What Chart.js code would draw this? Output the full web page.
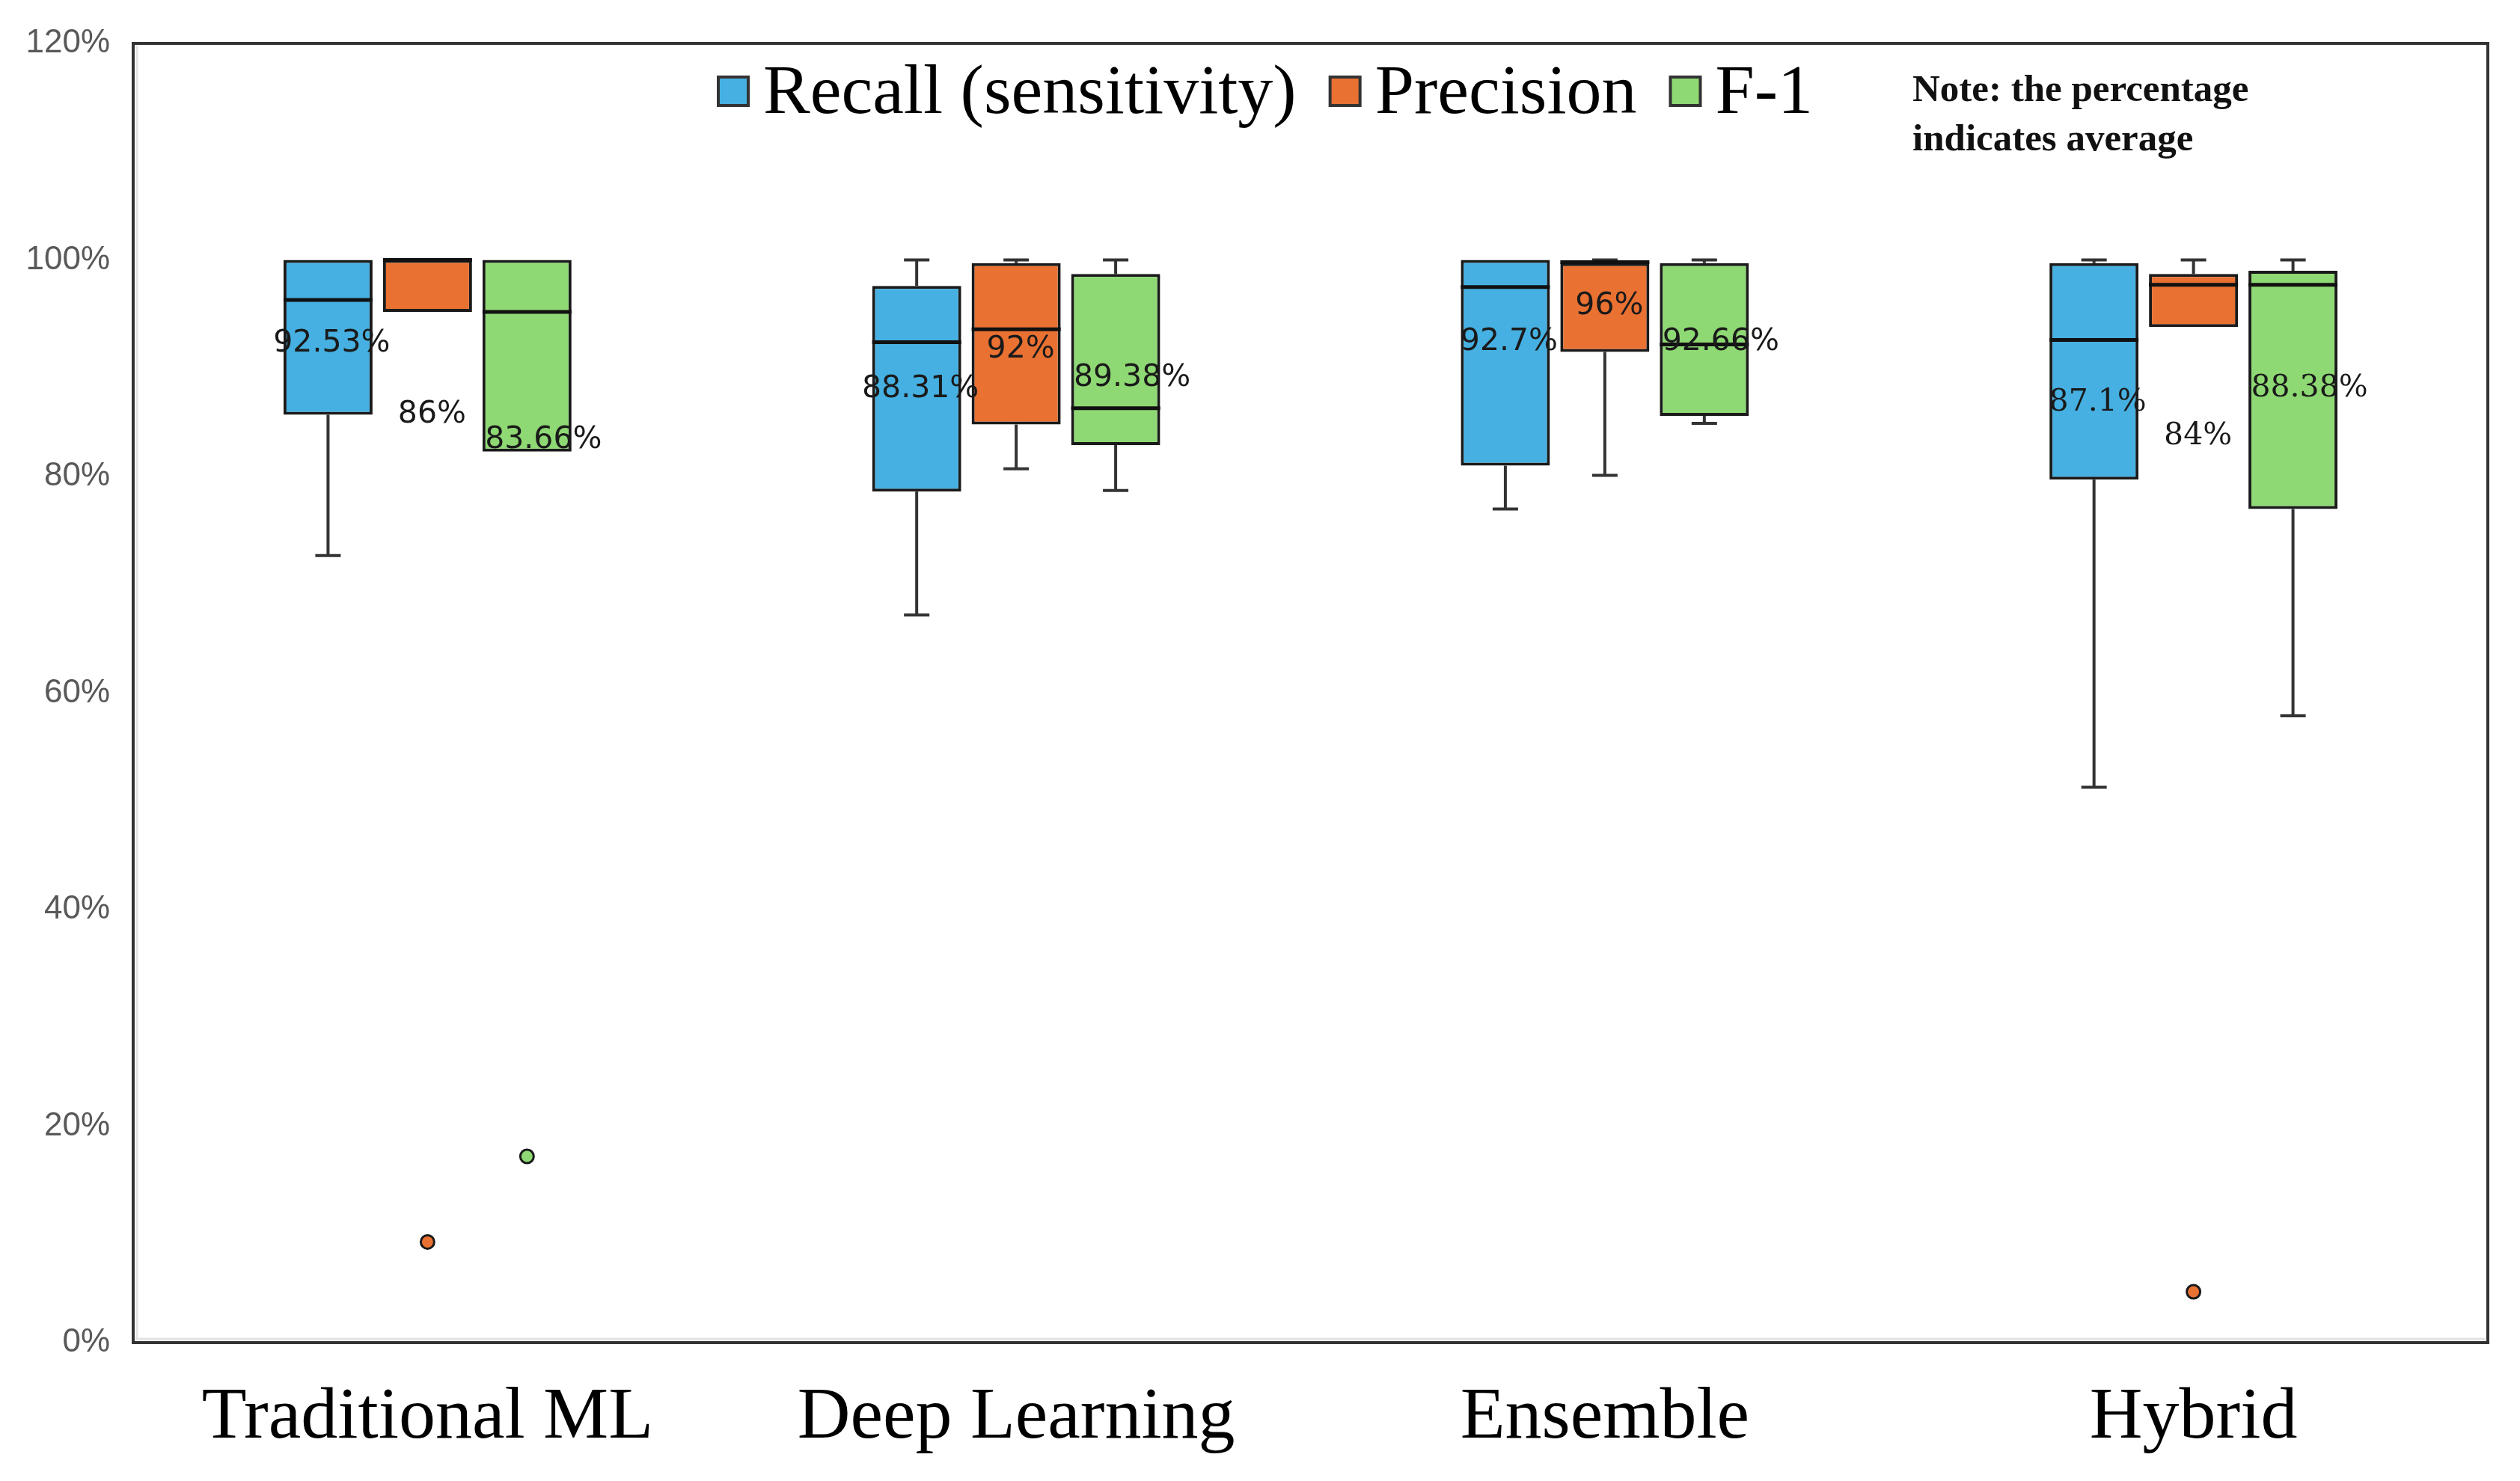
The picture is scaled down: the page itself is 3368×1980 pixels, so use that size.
<!DOCTYPE html>
<html>
<head>
<meta charset="utf-8">
<script src="https://cdn.jsdelivr.net/npm/chart.js@4.4.1/dist/chart.umd.min.js"></script>
<style>
  html, body { margin: 0; padding: 0; background: #fff; }
  canvas { display: block; }
</style>
</head>
<body>
<canvas id="boxChart" width="3368" height="1980"></canvas>
<script>
const categories = ['Traditional ML', 'Deep Learning', 'Ensemble', 'Hybrid'];
const yTicks = [0, 20, 40, 60, 80, 100, 120];

// Recall (sensitivity)
const recallMin = [72.7, 67.2, 77.0, 51.3];
const recallQ1 = [85.7, 78.6, 81.0, 79.7];
const recallMedian = [96.3, 92.4, 97.5, 92.6];
const recallQ3 = [100, 97.6, 100, 99.7];
const recallMax = [100, 100, 100, 100];
const recallMean = [92.53, 88.31, 92.7, 87.1];
const recallOutliers = [[], [], [], []];

// Precision
const precisionMin = [95.2, 80.7, 80.1, 93.8];
const precisionQ1 = [95.2, 84.8, 91.5, 93.8];
const precisionMedian = [100, 93.6, 99.8, 97.7];
const precisionQ3 = [100, 99.7, 99.7, 98.7];
const precisionMax = [100, 100, 100, 100];
const precisionMean = [86, 92, 96, 84];
const precisionOutliers = [[9.3], [], [], [4.7]];

// F-1
const f1Min = [82.3, 78.7, 84.9, 57.9];
const f1Q1 = [82.3, 82.9, 85.6, 77.0];
const f1Median = [95.2, 86.3, 92.2, 97.7];
const f1Q3 = [100, 98.7, 99.7, 99.0];
const f1Max = [100, 100, 100, 100];
const f1Mean = [83.66, 89.38, 92.66, 88.38];
const f1Outliers = [[17.2], [], [], []];

const noteLines = ['Note: the percentage', 'indicates average'];

const series = [
    { label: 'Recall (sensitivity)', color: '#45B0E1', min: recallMin, q1: recallQ1, median: recallMedian, q3: recallQ3, max: recallMax, mean: recallMean, outliers: recallOutliers, labelShift: 5 },
    { label: 'Precision', color: '#E97132', min: precisionMin, q1: precisionQ1, median: precisionMedian, q3: precisionQ3, max: precisionMax, mean: precisionMean, outliers: precisionOutliers, labelShift: 6 },
    { label: 'F-1', color: '#8ED973', min: f1Min, q1: f1Q1, median: f1Median, q3: f1Q3, max: f1Max, mean: f1Mean, outliers: f1Outliers, labelShift: 22 }
];

// the last group's labels are set in a serif face in the original
const meanFonts = ['"DejaVu Sans"', '"DejaVu Sans"', '"DejaVu Sans"', '"DejaVu Serif"'];

function line(ctx, x1, y1, x2, y2) {
    ctx.beginPath();
    ctx.moveTo(x1, y1);
    ctx.lineTo(x2, y2);
    ctx.stroke();
}

const boxExtras = {
    id: 'boxExtras',
    afterDatasetsDraw(chart) {
        const ctx = chart.ctx;
        const yScale = chart.scales.y;
        ctx.save();
        series.forEach((s, di) => {
            const meta = chart.getDatasetMeta(di);
            meta.data.forEach((bar, i) => {
                const x = bar.x;
                const half = bar.width / 2;
                const capHalf = 17;
                const pMin = yScale.getPixelForValue(s.min[i]);
                const pQ1 = yScale.getPixelForValue(s.q1[i]);
                const pMed = yScale.getPixelForValue(s.median[i]);
                const pQ3 = yScale.getPixelForValue(s.q3[i]);
                const pMax = yScale.getPixelForValue(s.max[i]);

                // whiskers
                ctx.strokeStyle = '#333';
                ctx.lineWidth = 4;
                if (s.min[i] < s.q1[i]) {
                    line(ctx, x, pQ1, x, pMin);
                    line(ctx, x - capHalf, pMin, x + capHalf, pMin);
                }
                if (s.max[i] > s.q3[i]) {
                    line(ctx, x, pQ3, x, pMax);
                    line(ctx, x - capHalf, pMax, x + capHalf, pMax);
                }

                // median
                ctx.strokeStyle = '#111';
                ctx.lineWidth = 5;
                line(ctx, x - half, pMed, x + half, pMed);

                // outliers
                s.outliers[i].forEach(v => {
                    ctx.beginPath();
                    ctx.arc(x, yScale.getPixelForValue(v), 9, 0, Math.PI * 2);
                    ctx.fillStyle = s.color;
                    ctx.fill();
                    ctx.lineWidth = 3;
                    ctx.strokeStyle = '#1a1a1a';
                    ctx.stroke();
                });

                // average label
                ctx.fillStyle = '#1a1a1a';
                ctx.font = '41px ' + meanFonts[i];
                ctx.textAlign = 'center';
                ctx.textBaseline = 'middle';
                ctx.fillText(s.mean[i] + '%', x + s.labelShift, yScale.getPixelForValue(s.mean[i]) + 4);
            });
        });
        ctx.restore();
    },
    afterDraw(chart) {
        const ctx = chart.ctx;
        const a = chart.chartArea;
        ctx.save();

        // plot frame
        ctx.strokeStyle = '#e2e2e2';
        ctx.lineWidth = 3;
        line(ctx, a.left + 5, a.top + 3, a.left + 5, a.bottom - 3);
        line(ctx, a.left + 3, a.bottom - 5, a.right - 3, a.bottom - 5);
        ctx.strokeStyle = '#333';
        ctx.lineWidth = 4;
        ctx.strokeRect(a.left, a.top, a.right - a.left, a.bottom - a.top);

        // legend inside the plot
        ctx.font = '94px "Liberation Serif"';
        ctx.textBaseline = 'middle';
        ctx.textAlign = 'left';
        let lx = 960;
        const ly = 122;
        series.forEach(s => {
            ctx.fillStyle = s.color;
            ctx.fillRect(lx, ly - 19, 40, 38);
            ctx.strokeStyle = '#333';
            ctx.lineWidth = 4;
            ctx.strokeRect(lx, ly - 19, 40, 38);
            ctx.fillStyle = '#000';
            ctx.fillText(s.label, lx + 60, ly + 4);
            lx += 60 + ctx.measureText(s.label).width + 45;
        });

        // note
        ctx.font = 'bold 51px "Liberation Serif"';
        ctx.fillStyle = '#111';
        noteLines.forEach((t, k) => ctx.fillText(t, 2556, 122 + k * 66));

        ctx.restore();
    }
};

function createChart() {
    const canvas = document.getElementById('boxChart');

    new Chart(canvas, {
        type: 'bar',
        data: {
            labels: categories,
            datasets: series.map(s => ({
                label: s.label,
                data: s.q1.map((v, i) => [v, s.q3[i]]),
                backgroundColor: s.color,
                borderColor: '#1a1a1a',
                borderWidth: 4,
                borderSkipped: false,
                categoryPercentage: 0.507,
                barPercentage: 0.895
            }))
        },
        options: {
            responsive: false,
            animation: false,
            devicePixelRatio: 1,
            layout: {
                padding: { top: 58, right: 43, left: 0, bottom: 0 }
            },
            plugins: {
                legend: { display: false },
                tooltip: { enabled: false }
            },
            scales: {
                x: {
                    grid: { display: false, drawTicks: false },
                    border: { display: false },
                    ticks: {
                        padding: 42,
                        color: '#000',
                        font: { family: '"Liberation Serif"', size: 98 }
                    },
                    afterFit: scale => { scale.height = 185; }
                },
                y: {
                    min: 0,
                    max: 120,
                    grid: { display: false, drawTicks: false },
                    border: { display: false },
                    afterBuildTicks: scale => {
                        scale.ticks = yTicks.map(v => ({ value: v }));
                    },
                    ticks: {
                        padding: 31,
                        color: '#595959',
                        font: { family: '"Liberation Sans"', size: 44 },
                        callback: v => v + '%'
                    },
                    afterFit: scale => { scale.width = 178; }
                }
            }
        },
        plugins: [boxExtras]
    });
}

document.addEventListener('DOMContentLoaded', createChart);
</script>
</body>
</html>
